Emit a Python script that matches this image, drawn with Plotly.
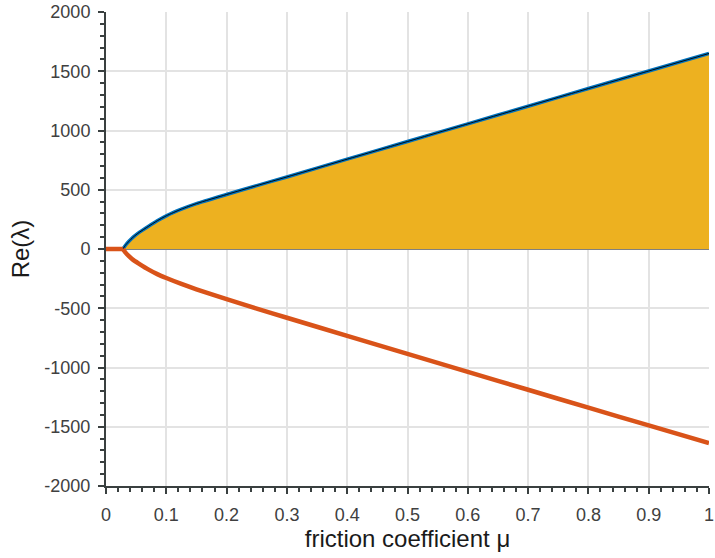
import plotly.graph_objects as go

mu_flat = [0, 0.028]
re_flat = [0, 0]

mu_upper = [0.028, 0.032, 0.038, 0.045, 0.055, 0.07, 0.085, 0.1, 0.125, 0.15,
            0.2, 0.25, 0.3, 0.4, 0.5, 0.6, 0.7, 0.8, 0.9, 1.0]
re_upper = [0, 30, 65, 100, 140, 190, 238, 280, 336, 383,
            460, 535, 608, 758, 907, 1056, 1205, 1354, 1502, 1650]

mu_lower = [0.028, 0.032, 0.038, 0.045, 0.055, 0.07, 0.085, 0.1, 0.125, 0.15,
            0.2, 0.25, 0.3, 0.4, 0.5, 0.6, 0.7, 0.8, 0.9, 1.0]
re_lower = [0, -28, -60, -92, -125, -172, -212, -245, -295, -340,
            -423, -503, -580, -733, -885, -1037, -1188, -1339, -1489, -1638]

x_ticks = [0, 0.1, 0.2, 0.3, 0.4, 0.5, 0.6, 0.7, 0.8, 0.9, 1]
x_ticklabels = ["0", "0.1", "0.2", "0.3", "0.4", "0.5", "0.6", "0.7", "0.8", "0.9", "1"]
y_ticks = [-2000, -1500, -1000, -500, 0, 500, 1000, 1500, 2000]
y_ticklabels = [str(v) for v in y_ticks]

FONT = "Liberation Sans, Arial, Helvetica, sans-serif"
AXIS_COLOR = "#3a4040"
SMOOTH = 0.6

fig = go.Figure()

# filled unstable region
fig.add_trace(go.Scatter(x=mu_upper, y=re_upper, mode="lines", fill="tozeroy",
                         fillcolor="#EDB120",
                         line=dict(width=0, color="#EDB120", shape="spline", smoothing=SMOOTH),
                         hoverinfo="skip", showlegend=False))
# upper eigenvalue branch (blue)
fig.add_trace(go.Scatter(x=mu_upper, y=re_upper, mode="lines",
                         line=dict(color="#0072BD", width=3.5, shape="spline", smoothing=SMOOTH),
                         showlegend=False))
# patch edge (black)
fig.add_trace(go.Scatter(x=mu_upper, y=re_upper, mode="lines",
                         line=dict(color="black", width=0.9, shape="spline", smoothing=SMOOTH),
                         showlegend=False))
# flat part (both branches at zero)
fig.add_trace(go.Scatter(x=mu_flat, y=re_flat, mode="lines",
                         line=dict(color="#D95319", width=4.5), showlegend=False))
# lower eigenvalue branch (orange)
fig.add_trace(go.Scatter(x=mu_lower, y=re_lower, mode="lines",
                         line=dict(color="#D95319", width=4.5, shape="spline", smoothing=SMOOTH),
                         showlegend=False))

fig.update_layout(
    width=715, height=558,
    margin=dict(l=106, r=1, t=12, b=72),
    paper_bgcolor="white", plot_bgcolor="white",
    font=dict(family=FONT, size=18, color="#404040"),
    showlegend=False,
)

fig.update_xaxes(
    range=[0, 1], tickvals=x_ticks, ticktext=x_ticklabels,
    showgrid=True, gridcolor="#e3e3e3", gridwidth=2,
    showline=True, linecolor=AXIS_COLOR, linewidth=2,
    ticks="outside", ticklen=6, tickwidth=2, tickcolor=AXIS_COLOR,
    minor=dict(dtick=0.02, tick0=0, ticks="outside", ticklen=4, tickwidth=2,
               tickcolor=AXIS_COLOR, showgrid=False),
    zeroline=False, ticklabelstandoff=5, ticklabeloverflow="allow",
    title=dict(text="friction coefficient μ", font=dict(size=24, color="#1a1a1a"), standoff=6),
    tickfont=dict(size=18, color="#404040"),
)
fig.update_yaxes(
    range=[-2000, 2000], tickvals=y_ticks, ticktext=y_ticklabels,
    showgrid=True, gridcolor="#e3e3e3", gridwidth=2,
    showline=True, linecolor=AXIS_COLOR, linewidth=2,
    ticks="outside", ticklen=6, tickwidth=2, tickcolor=AXIS_COLOR,
    minor=dict(dtick=100, tick0=0, ticks="outside", ticklen=4, tickwidth=2,
               tickcolor=AXIS_COLOR, showgrid=False),
    zeroline=True, zerolinecolor="#808080", zerolinewidth=1.5,
    ticklabelstandoff=4,
    title=dict(text="Re(λ)", font=dict(size=24, color="#1a1a1a"), standoff=8),
    tickfont=dict(size=18, color="#404040"),
)

fig.write_html("out.html")
